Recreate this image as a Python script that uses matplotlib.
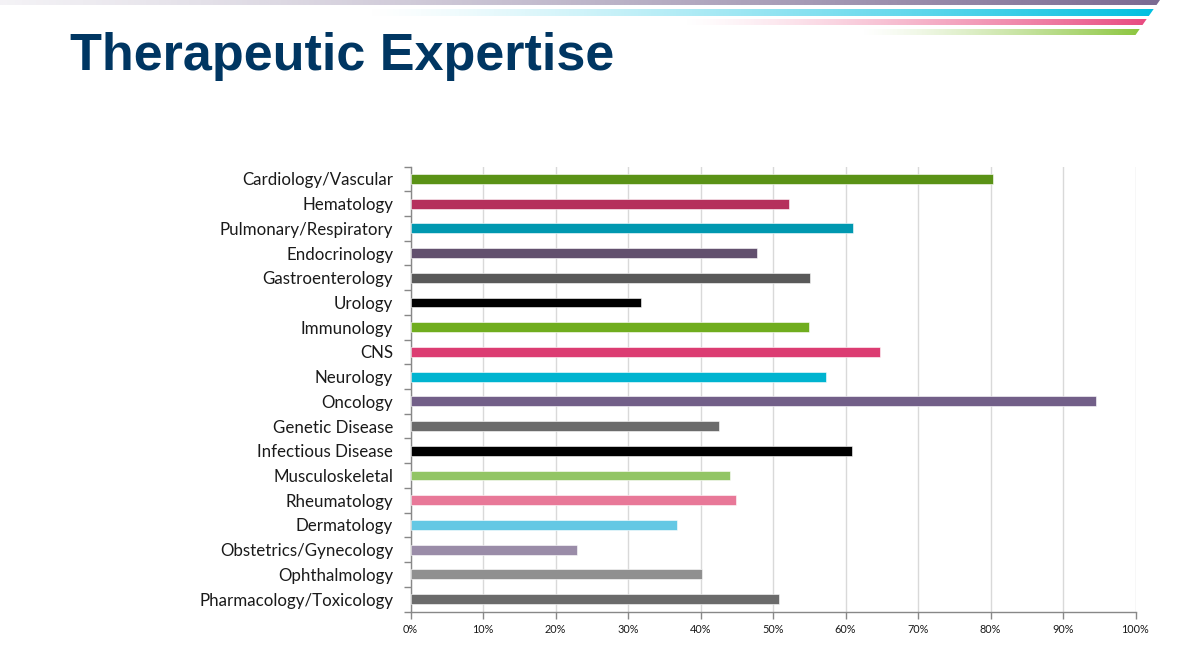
import numpy as np
import matplotlib
matplotlib.use("Agg")
import matplotlib.pyplot as plt
from matplotlib.colors import to_rgb
from matplotlib.patches import Polygon
from matplotlib.ticker import FixedLocator, PercentFormatter

# data, top to bottom as shown
areas = ["Cardiology/Vascular", "Hematology", "Pulmonary/Respiratory", "Endocrinology",
         "Gastroenterology", "Urology", "Immunology", "CNS", "Neurology", "Oncology",
         "Genetic Disease", "Infectious Disease", "Musculoskeletal", "Rheumatology",
         "Dermatology", "Obstetrics/Gynecology", "Ophthalmology", "Pharmacology/Toxicology"]
share = [0.803, 0.522, 0.610, 0.478, 0.551, 0.318, 0.550, 0.648, 0.573, 0.945,
         0.425, 0.609, 0.440, 0.449, 0.367, 0.230, 0.402, 0.508]
colors = ["#5a9216", "#b5305c", "#0098b0", "#62506e", "#595959", "#000000", "#70ad1e",
          "#dc3c72", "#00b4d0", "#725f88", "#6b6b6b", "#000000", "#92c565", "#e87898",
          "#64c8e4", "#9a8ca8", "#909090", "#6b6b6b"]

W, H = 1200, 647
fig = plt.figure(figsize=(W / 100, H / 100), dpi=100)

# decorative gradient stripes, pixel coordinates
deco = fig.add_axes([0, 0, 1, 1], zorder=0)
deco.set_xlim(0, W)
deco.set_ylim(H, 0)
deco.axis("off")

def stripe(x0, y0, y1, color):
    xr0 = 1160 - 0.7 * y0
    xr1 = 1160 - 0.7 * y1
    ramp = np.linspace(0, 1, 512) ** 1.3
    rgba = np.ones((1, 512, 4))
    rgba[..., :3] = to_rgb(color)
    rgba[..., 3] = ramp
    im = deco.imshow(rgba, extent=(x0, xr0, y1, y0), aspect="auto", interpolation="bilinear")
    poly = Polygon([(x0, y0), (xr0, y0), (xr1, y1), (x0, y1)], transform=deco.transData)
    im.set_clip_path(poly)

stripe(-200, 0, 5, "#7a6a92")
stripe(360, 9, 16, "#00c0e0")
stripe(680, 19, 25, "#e84a80")
stripe(860, 29, 35, "#8cc63f")
deco.set_xlim(0, W)
deco.set_ylim(H, 0)

fig.text(70 / W, 1 - 70 / H, "Therapeutic Expertise", fontsize=37.5, fontweight="bold",
         color="#003662", family="Liberation Sans", va="baseline", ha="left")

ax = fig.add_axes([410.5 / W, 1 - 611.5 / H, 725 / W, (611.5 - 166.5) / H], zorder=1)
ax.patch.set_alpha(0)
n = len(areas)
ypos = np.arange(n)[::-1]
ax.barh(ypos, share, height=0.4, color=colors, edgecolor="white", linewidth=0.4, zorder=3)

ax.set_xlim(0, 1)
ax.set_ylim(-0.5, n - 0.5)
ax.set_xticks(np.arange(0, 1.01, 0.1))
ax.xaxis.set_major_formatter(PercentFormatter(1.0, decimals=0))
ax.grid(axis="x", color="#d9d9d9", linewidth=1, zorder=0)

ax.set_yticks(ypos)
ax.set_yticklabels(areas, family="Lato", fontsize=12.2, color="#1a1a1a")
ax.yaxis.set_minor_locator(FixedLocator(np.arange(-0.5, n, 1)))
ax.tick_params(axis="y", which="major", length=0, pad=12.5)
ax.tick_params(axis="y", which="minor", length=5, color="#888888", width=1)
ax.tick_params(axis="x", length=5, color="#888888", width=1, labelsize=7.8, labelcolor="#1a1a1a", pad=4)
for lab in ax.get_xticklabels():
    lab.set_family("Lato")

for s in ("top", "right"):
    ax.spines[s].set_visible(False)
for s in ("left", "bottom"):
    ax.spines[s].set_color("#888888")
    ax.spines[s].set_linewidth(1)

fig.savefig("out.png", dpi=100)
